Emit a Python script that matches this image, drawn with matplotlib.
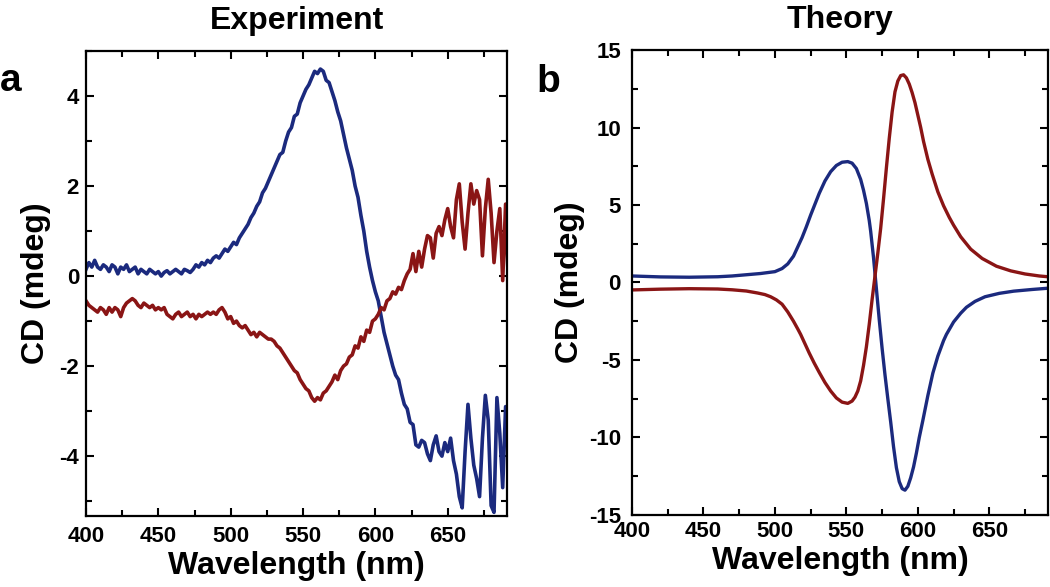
import numpy as np
import matplotlib
matplotlib.use("Agg")
import matplotlib.pyplot as plt
from matplotlib.ticker import MultipleLocator

plt.rcParams["font.family"] = ["Liberation Sans", "DejaVu Sans"]
plt.rcParams["font.weight"] = "bold"
plt.rcParams["axes.unicode_minus"] = False

BLUE = "#1b2a7e"
RED = "#8a1515"

# ---- Experiment (2 nm steps) ----
exp_wl = np.arange(400, 693, 2)

exp_blue = [
    0.15, 0.30, 0.20, 0.35, 0.20, 0.15, 0.25, 0.20, 0.10, 0.25,
    0.20, 0.05, 0.20, 0.15, 0.25, 0.10, 0.15, 0.20, 0.05, 0.15,
    0.10, 0.05, 0.15, 0.10, 0.05, 0.10, 0.00, 0.08, 0.12, 0.05,
    0.10, 0.15, 0.10, 0.05, 0.15, 0.12, 0.08, 0.15, 0.25, 0.20,
    0.30, 0.25, 0.35, 0.30, 0.40, 0.45, 0.40, 0.50, 0.60, 0.55,
    0.65, 0.75, 0.70, 0.85, 0.95, 1.05, 1.15, 1.30, 1.40, 1.55,
    1.65, 1.85, 1.95, 2.10, 2.25, 2.40, 2.55, 2.70, 2.75, 3.00,
    3.20, 3.30, 3.55, 3.60, 3.85, 4.00, 4.15, 4.25, 4.40, 4.55,
    4.50, 4.60, 4.55, 4.35, 4.30, 4.10, 3.90, 3.65, 3.45, 3.15,
    2.85, 2.60, 2.35, 2.00, 1.75, 1.35, 1.00, 0.55, 0.20, -0.10,
    -0.35, -0.55, -0.90, -1.25, -1.50, -1.75, -2.00, -2.20, -2.30, -2.60,
    -2.85, -2.95, -3.25, -3.30, -3.75, -3.80, -3.65, -3.70, -3.95, -4.10,
    -3.75, -3.55, -3.90, -4.00, -3.70, -3.90, -3.60, -4.10, -4.40, -4.90,
    -5.15, -3.90, -2.85, -3.60, -4.20, -4.50, -4.90, -3.60, -2.65, -3.20,
    -5.10, -5.25, -2.70, -3.50, -4.70, -2.90, -3.90,
]

exp_red = [
    -0.55, -0.65, -0.70, -0.75, -0.80, -0.70, -0.75, -0.85, -0.70, -0.80,
    -0.70, -0.75, -0.90, -0.70, -0.60, -0.55, -0.50, -0.55, -0.65, -0.70,
    -0.60, -0.65, -0.70, -0.65, -0.75, -0.70, -0.75, -0.70, -0.85, -0.90,
    -0.95, -0.85, -0.80, -0.90, -0.85, -0.80, -0.90, -0.85, -0.95, -0.85,
    -0.90, -0.85, -0.80, -0.85, -0.80, -0.85, -0.75, -0.70, -0.80, -0.95,
    -0.90, -1.05, -1.00, -1.10, -1.15, -1.10, -1.20, -1.30, -1.25, -1.35,
    -1.25, -1.30, -1.35, -1.40, -1.40, -1.45, -1.55, -1.60, -1.70, -1.80,
    -1.90, -2.00, -2.10, -2.15, -2.30, -2.40, -2.50, -2.55, -2.70, -2.78,
    -2.70, -2.75, -2.60, -2.55, -2.45, -2.35, -2.20, -2.30, -2.10, -2.00,
    -1.95, -1.80, -1.75, -1.55, -1.60, -1.35, -1.45, -1.20, -1.25, -1.00,
    -0.95, -0.85, -0.70, -0.75, -0.55, -0.50, -0.35, -0.40, -0.25, -0.30,
    -0.10, 0.05, 0.15, 0.50, 0.10, 0.55, 0.20, 0.60, 0.90, 0.85,
    0.40, 0.95, 1.10, 0.90, 1.25, 1.50, 1.10, 0.85, 1.70, 2.05,
    1.20, 0.60, 1.40, 2.05, 1.60, 1.90, 1.70, 0.45, 1.50, 2.15,
    1.40, 0.30, 1.00, 1.50, -0.10, 1.60, -0.25,
]

# ---- Theory ----
th_blue_wl = [400, 420, 440, 460, 470, 480, 490, 500, 505, 509, 513, 516, 519, 522,
              525, 528, 531, 535, 539, 543, 547, 551, 554, 557, 560, 562, 564, 566,
              567, 569, 571, 573, 575, 577, 579, 581, 583, 585, 587, 589, 591, 593,
              595, 597, 599, 601, 603.5, 607, 610.5, 614, 618, 620, 625, 630, 634,
              640, 647, 657, 667, 680, 691]
th_blue = [0.42, 0.36, 0.34, 0.37, 0.42, 0.50, 0.58, 0.70, 0.90, 1.20, 1.70, 2.30, 2.90, 3.60,
           4.35, 5.05, 5.75, 6.55, 7.15, 7.55, 7.76, 7.80, 7.70, 7.35, 6.65, 5.95, 5.10, 4.00,
           3.30, 1.60, -0.40, -2.40, -4.25, -5.95, -7.50, -9.00, -10.6, -11.95, -12.85, -13.3, -13.4, -13.15,
           -12.6, -11.9, -11.0, -10.0, -8.90, -7.30, -5.85, -4.75, -3.75, -3.35, -2.55, -1.98, -1.60,
           -1.22, -0.92, -0.70, -0.56, -0.45, -0.37]

th_red_wl = [400, 420, 440, 460, 470, 480, 488, 493, 497, 501, 505, 509, 513, 516, 518,
             521, 524, 527.5, 531, 535, 539, 543, 547, 551, 554, 556, 558, 560, 562, 564,
             566, 568, 570, 572, 574, 576, 578, 580, 582, 584, 586, 588, 590, 592, 594,
             596, 598, 600, 602, 604, 607, 610, 614, 618, 622, 625, 630, 637, 645, 655,
             665, 675, 685, 691]
th_red = [-0.48, -0.43, -0.40, -0.42, -0.47, -0.55, -0.68, -0.78, -0.92, -1.12, -1.40, -1.90, -2.50, -3.00, -3.35,
          -3.95, -4.55, -5.20, -5.80, -6.45, -7.00, -7.45, -7.72, -7.80, -7.65, -7.40, -7.00, -6.35, -5.35, -4.15,
          -2.70, -1.10, 0.40, 1.90, 3.50, 5.40, 7.40, 9.30, 11.0, 12.3, 13.0, 13.35, 13.4, 13.2, 12.8,
          12.25, 11.6, 10.8, 10.0, 9.10, 7.95, 7.00, 5.85, 4.95, 4.20, 3.70, 2.95, 2.15, 1.55, 1.05,
          0.75, 0.55, 0.42, 0.37]

fig = plt.figure(figsize=(10.5, 5.87), dpi=100)
ax1 = fig.add_axes([0.0819, 0.121, 0.401, 0.792])
ax2 = fig.add_axes([0.6019, 0.1227, 0.3961, 0.7921])

ax1.plot(exp_wl, exp_blue, color=BLUE, lw=2.6)
ax1.plot(exp_wl, exp_red, color=RED, lw=2.6)
ax2.plot(th_blue_wl, th_blue, color=BLUE, lw=2.4)
ax2.plot(th_red_wl, th_red, color=RED, lw=2.4)

ax1.set_ylim(-5.33, 5.0)
ax1.set_yticks([-4, -2, 0, 2, 4])
ax1.yaxis.set_minor_locator(MultipleLocator(1))
ax2.set_ylim(-15, 15)
ax2.set_yticks([-15, -10, -5, 0, 5, 10, 15])
ax2.yaxis.set_minor_locator(MultipleLocator(2.5))

for ax in (ax1, ax2):
    ax.set_xlim(400, 691)
    ax.set_xticks([400, 450, 500, 550, 600, 650])
    ax.xaxis.set_minor_locator(MultipleLocator(25))
    ax.tick_params(which="both", direction="in", top=True, right=True, width=1.5)
    ax.tick_params(which="major", length=6, labelsize=16)
    ax.tick_params(which="minor", length=4.5)
    for s in ax.spines.values():
        s.set_linewidth(1.6)
    ax.set_xlabel("Wavelength (nm)", fontsize=23, fontweight="bold", labelpad=3)

ax1.set_ylabel("CD (mdeg)", fontsize=23, fontweight="bold", labelpad=6)
ax2.set_ylabel("CD (mdeg)", fontsize=23, fontweight="bold", labelpad=3)

ax1.tick_params(axis="x", which="major", pad=7)
ax1.tick_params(axis="y", which="major", pad=5)
ax2.tick_params(axis="x", which="major", pad=4)
ax2.tick_params(axis="y", which="major", pad=8)

ax1.set_title("Experiment", fontsize=23, fontweight="bold", pad=16)
ax2.set_title("Theory", fontsize=23, fontweight="bold", pad=16)

fig.text(0.0, 0.845, "a", fontsize=28, fontweight="bold")
fig.text(0.511, 0.843, "b", fontsize=28, fontweight="bold")

for ax in (ax1, ax2):
    plt.setp(ax.get_xticklabels() + ax.get_yticklabels(), fontweight="bold")

fig.savefig("out.png", dpi=100)
